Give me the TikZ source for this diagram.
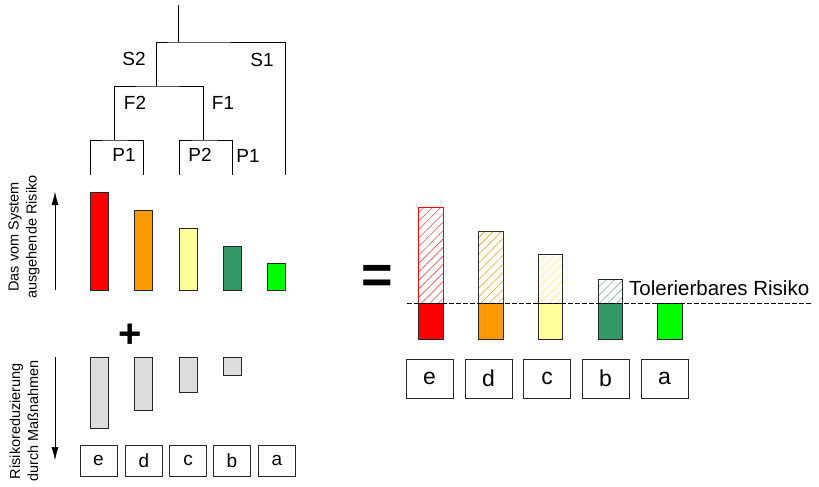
\documentclass[tikz,border=0pt]{standalone}
\usepackage{fontspec}
\setmainfont{Liberation Sans}
\usetikzlibrary{patterns.meta,arrows.meta}

\definecolor{rot}{HTML}{FF0000}
\definecolor{orange}{HTML}{FF9900}
\definecolor{gelb}{HTML}{FFFF99}
\definecolor{dgruen}{HTML}{339966}
\definecolor{gruen}{HTML}{00FF00}
\definecolor{grau}{HTML}{DDDDDD}

\begin{document}
\begin{tikzpicture}[x=1pt,y=-1pt]
\tikzstyle{every node}+=[inner sep=0pt, font=\fontsize{19}{22}\selectfont]
\tikzstyle{bar}=[draw=black!85, line width=0.9pt]
\tikzstyle{smallbox}=[draw=black!85, line width=0.9pt, minimum width=37pt, minimum height=31pt]
\tikzstyle{bigbox}=[draw=black!85, line width=0.9pt, minimum width=47pt, minimum height=39pt, font=\fontsize{23}{26}\selectfont]
\tikzstyle{hatch}=[line width=0.9pt, pattern={Lines[angle=45,distance=6pt,line width=0.6pt]}]
\useasboundingbox (0,0) rectangle (819,487);
% decision tree
\coordinate (top) at (178,5);
\coordinate (s) at (178,42);
\coordinate (s2) at (156,86);
\coordinate (s1) at (285,175);
\coordinate (f2) at (114,140);
\coordinate (f1) at (203,140);
\draw (top) -- (s);
\draw (s2) |- (s) -| (s1);
\draw (f2) |- (s2) -| (f1);
\draw (90,175) |- (f2) -| (143,175);
\draw (179,175) |- (f1) -| (232,175);
\node (ls2) at (134,59) {S2};
\node (ls1) at (262,60) {S1};
\node (lf2) at (135,103) {F2};
\node (lf1) at (223,103) {F1};
\node (lp1) at (124,155) {P1};
\node (lp2) at (200,155) {P2};
\node (lp1b) at (248,156) {P1};
% risk without measures
\draw [bar, fill=rot] (90,192) rectangle (108,290);
\draw [bar, fill=orange] (134,210) rectangle (152,290);
\draw [bar, fill=gelb] (179,228) rectangle (197,290);
\draw [bar, fill=dgruen] (223,246) rectangle (241,290);
\draw [bar, fill=gruen] (267,263) rectangle (285,290);
\coordinate (upbot) at (55,290);
\coordinate (uptop) at (55,192);
\draw [-{Latex[length=13pt,width=7pt]}] (upbot) -- (uptop);
\node [rotate=90, align=center, font=\fontsize{14.5}{18}\selectfont] (risiko) at (24,237) {Das vom System\\ausgehende Risiko};
\node [font=\fontsize{40}{40}\selectfont\bfseries] (plus) at (130,336) {+};
% risk reduction
\draw [bar, fill=grau] (90,357) rectangle (108,428);
\draw [bar, fill=grau] (134,357) rectangle (152,410);
\draw [bar, fill=grau] (179,357) rectangle (197,392);
\draw [bar, fill=grau] (223,357) rectangle (241,375);
\coordinate (dntop) at (55,357);
\coordinate (dnbot) at (55,460);
\draw [-{Latex[length=13pt,width=7pt]}] (dntop) -- (dnbot);
\node [rotate=90, align=center, font=\fontsize{14.5}{18}\selectfont] (reduz) at (24,421) {Risikoreduzierung\\durch Maßnahmen};
\node [smallbox] (e1) at (98.5,460.5) {e};
\node [smallbox] (d1) at (144,460.5) {d};
\node [smallbox] (c1) at (188,460.5) {c};
\node [smallbox] (b1) at (232,460.5) {b};
\node [smallbox] (a1) at (277,460.5) {a};
% result
\node [font=\fontsize{54}{54}\selectfont\bfseries] (gleich) at (377,279) {=};
\draw [hatch, draw=rot, pattern color=rot!70] (418,207) rectangle (443,303);
\draw [hatch, draw=black!80, pattern color=orange] (478,231) rectangle (503,303);
\draw [hatch, draw=black!85, pattern color=gelb!80!orange] (538,254) rectangle (562,303);
\draw [hatch, draw=black!85, pattern color=dgruen!80] (598,279) rectangle (622,303);
\draw [bar, fill=rot] (418,303) rectangle (443,339);
\draw [bar, fill=orange] (478,303) rectangle (503,339);
\draw [bar, fill=gelb] (538,303) rectangle (562,339);
\draw [bar, fill=dgruen] (598,303) rectangle (622,339);
\draw [bar, fill=gruen] (657,303) rectangle (682,339);
\coordinate (tolstart) at (407,303);
\coordinate (tolend) at (812,303);
\draw [dashed, dash pattern=on 5pt off 2pt, line width=0.7pt] (tolstart) -- (tolend);
\node [anchor=west, font=\fontsize{20.5}{24}\selectfont] (tol) at (629,288) {Tolerierbares Risiko};
\node [bigbox] (e2) at (429.5,378.5) {e};
\node [bigbox] (d2) at (488.5,378.5) {d};
\node [bigbox] (c2) at (547,378.5) {c};
\node [bigbox] (b2) at (605.5,378.5) {b};
\node [bigbox] (a2) at (664.5,378.5) {a};
\end{tikzpicture}
\end{document}
